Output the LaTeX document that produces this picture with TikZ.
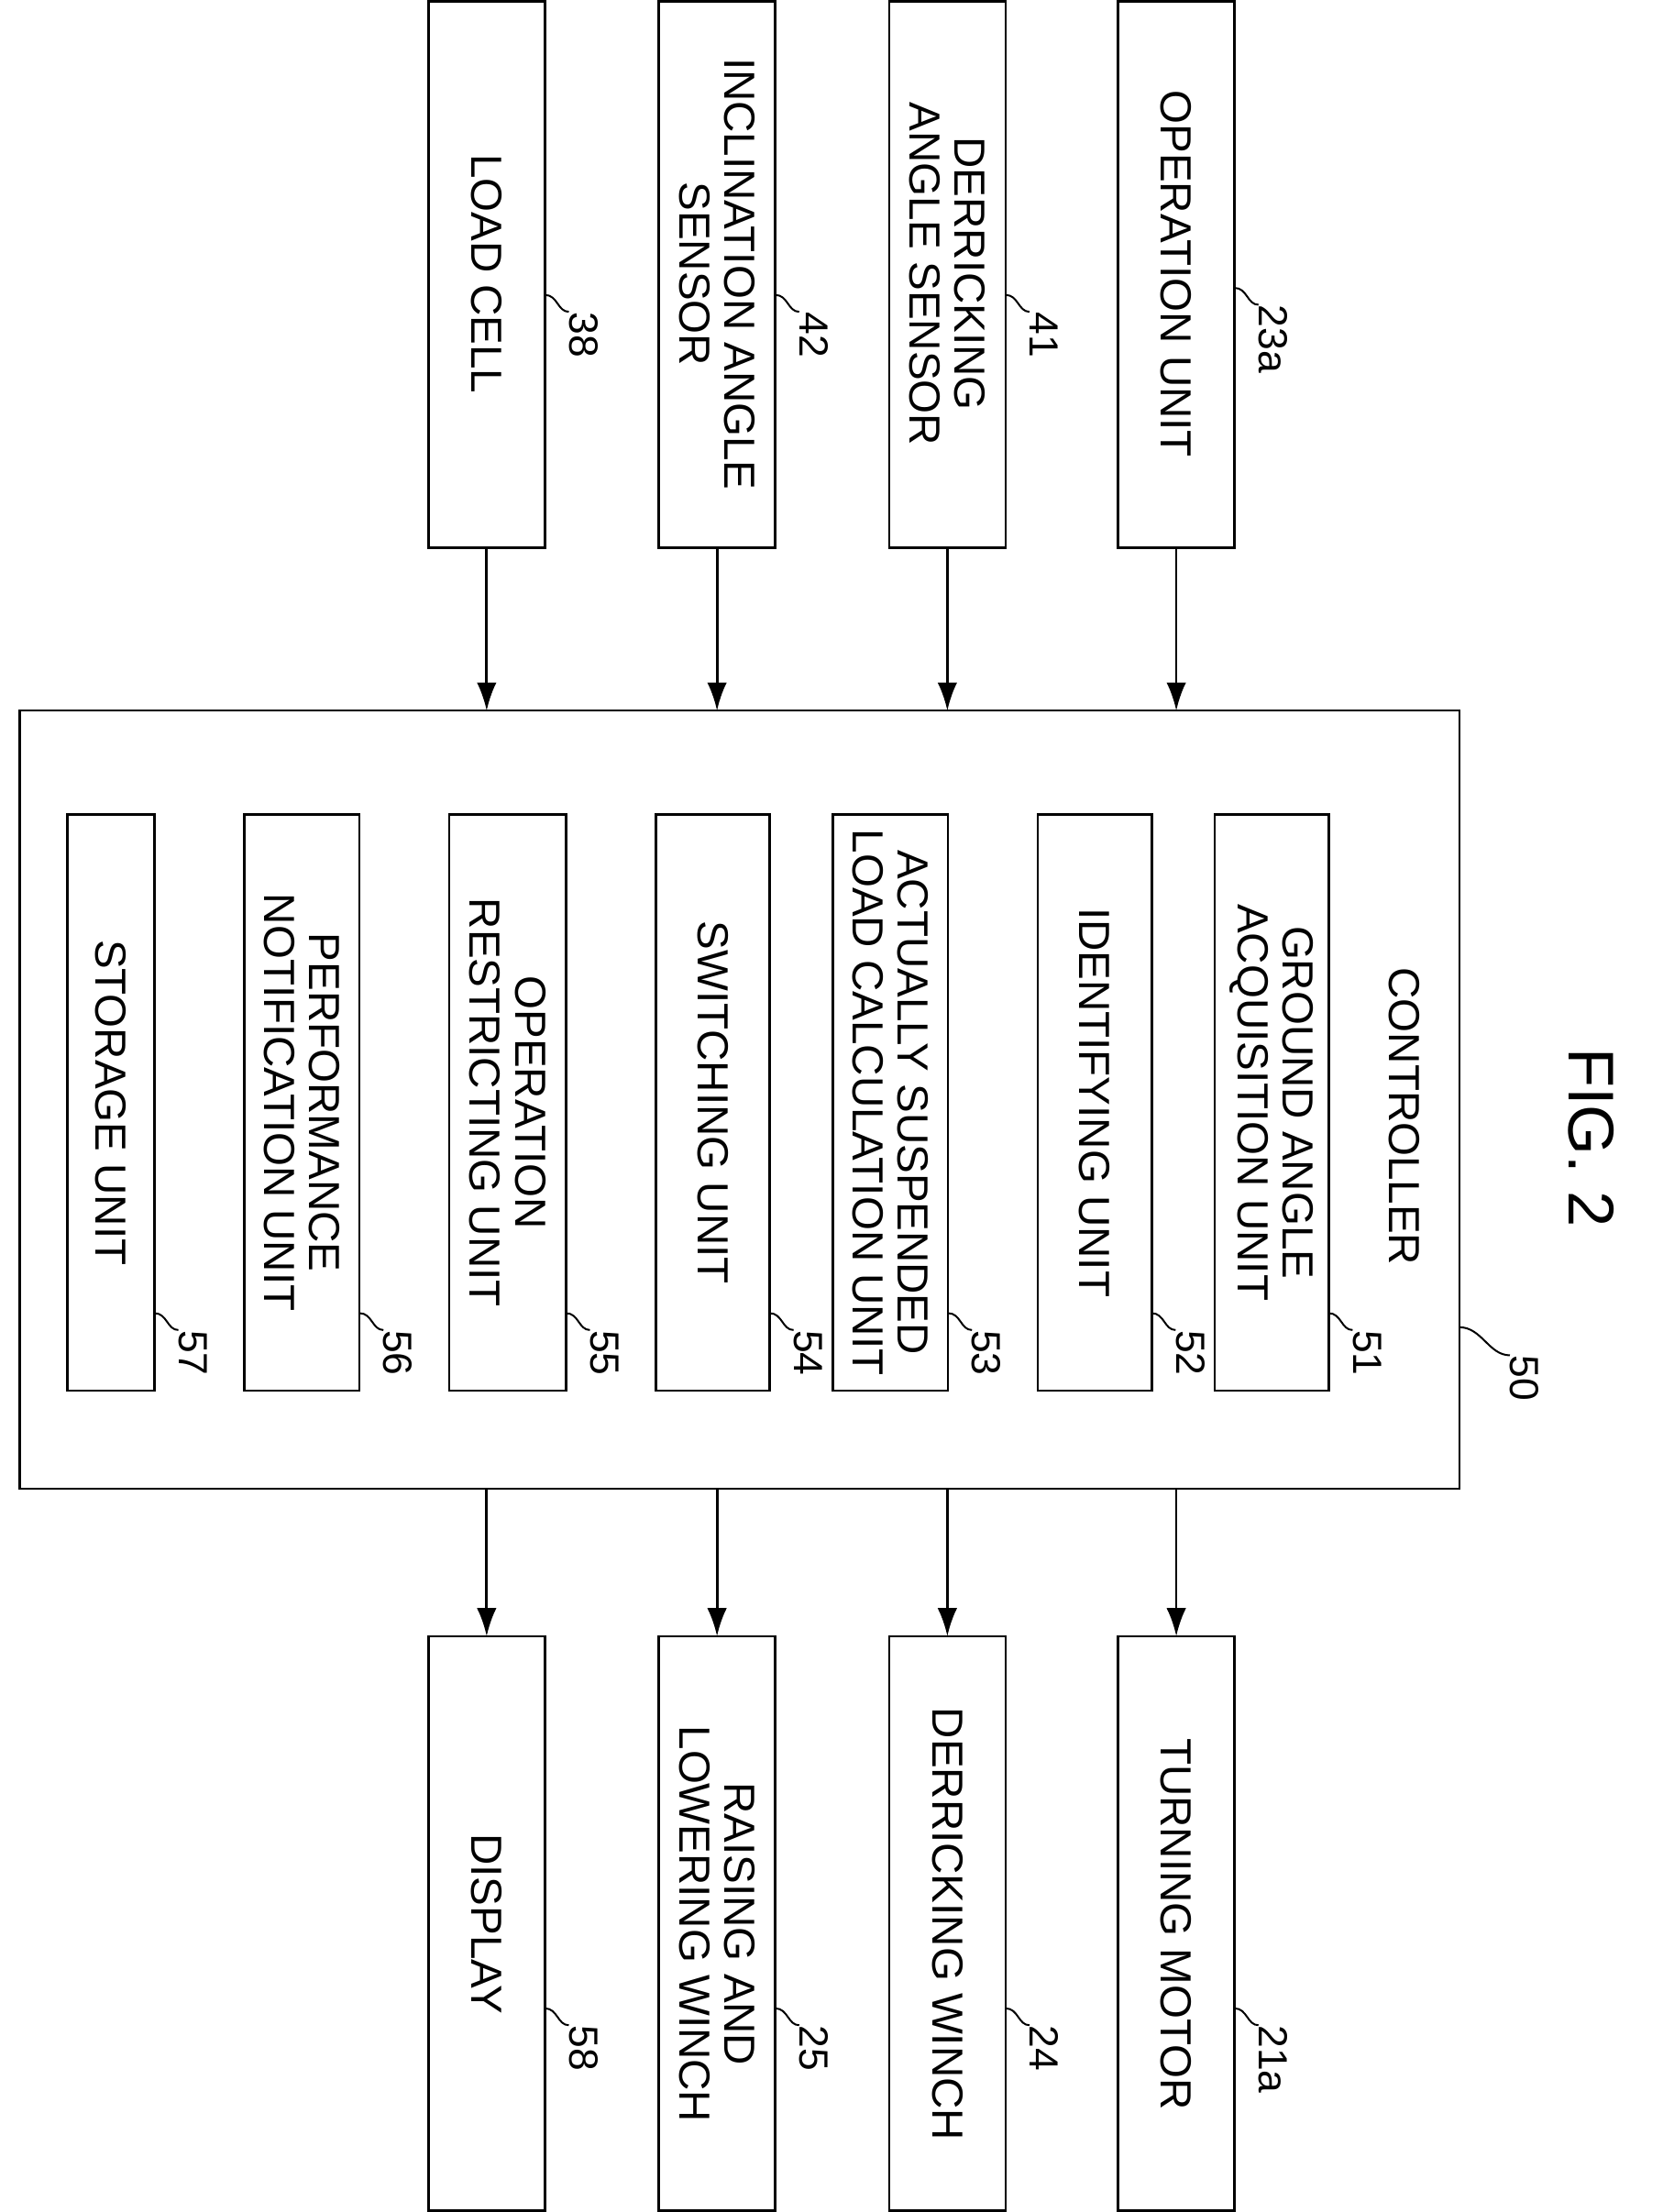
\documentclass[tikz,border=0pt]{standalone}
\usetikzlibrary{arrows.meta}
\usepackage{fontspec}
\setmainfont{Liberation Sans}
\begin{document}
\begin{tikzpicture}[x=1pt,y=-1pt,
 box/.style={draw,line width=1.6pt},
 txt/.style={rotate=-90,align=center,font=\fontsize{31}{32}\selectfont,inner sep=0},
 num/.style={rotate=-90,anchor=south west,font=\fontsize{29}{30}\selectfont,inner sep=0},
 arr/.style={line width=1.8pt,-{Latex[length=20pt,width=14pt]}},
 lead/.style={line width=1.3pt}]
\useasboundingbox (0,0) rectangle (1184,1575);
% top boxes
\foreach \n/\x/\t/\lab/\ly in {a/305/LOAD CELL/38/210, b/469/INCLINATION ANGLE\\SENSOR/42/210, c/633/DERRICKING\\ANGLE SENSOR/41/210, d/796/OPERATION UNIT/23a/205}{
 \draw[box] (\x,1) rectangle (\x+83,390);
 \node[txt] (tt\n) at (\x+41.5,195) {\t};
 \draw[lead] (\x+83,\ly) .. controls (\x+92,\ly) and (\x+92,\ly+12) .. (\x+100,\ly+12);
 \node[num] (tn\n) at (\x+100,\ly+12) {\lab};
 \coordinate (ta\n) at (\x+41.5,390);
 \coordinate (tb\n) at (\x+41.5,506);
 \draw[arr] (ta\n) -- (tb\n);
}
% controller
\draw[box] (14,506) rectangle (1039,1060);
\node[txt] (ctl) at (1000,795) {CONTROLLER};
\node[rotate=-90,font=\fontsize{46}{48}\selectfont] (fig) at (1133,810) {FIG. 2};
\draw[lead] (1039,945) .. controls (1055,945) and (1060,965) .. (1075,965);
\node[num] (n50) at (1075,965) {50};
% inner boxes
\foreach \n/\x/\w/\t/\lab in {g/865/81/GROUND ANGLE\\ACQUISITION UNIT/51, i/739/81/IDENTIFYING UNIT/52, s/593/82/ACTUALLY SUSPENDED\\LOAD CALCULATION UNIT/53, w/467/81/SWITCHING UNIT/54, r/320/83/OPERATION\\RESTRICTING UNIT/55, p/174/82/PERFORMANCE\\NOTIFICATION UNIT/56, u/48/62/STORAGE UNIT/57}{
 \draw[box] (\x,580) rectangle (\x+\w,990);
 \node[txt] (in\n) at (\x+\w/2,785) {\t};
 \draw[lead] (\x+\w,935) .. controls (\x+\w+9,935) and (\x+\w+9,947) .. (\x+\w+17,947);
 \node[num] (nn\n) at (\x+\w+17,947) {\lab};
}
% bottom boxes
\foreach \n/\x/\t/\lab/\ly in {a/305/DISPLAY/58/1430, b/469/RAISING AND\\LOWERING WINCH/25/1430, c/633/DERRICKING WINCH/24/1430, d/796/TURNING MOTOR/21a/1430}{
 \draw[box] (\x,1165) rectangle (\x+83,1574);
 \node[txt] (bt\n) at (\x+41.5,1370) {\t};
 \draw[lead] (\x+83,\ly) .. controls (\x+92,\ly) and (\x+92,\ly+12) .. (\x+100,\ly+12);
 \node[num] (bn\n) at (\x+100,\ly+12) {\lab};
 \coordinate (ba\n) at (\x+41.5,1060);
 \coordinate (bb\n) at (\x+41.5,1165);
 \draw[arr] (ba\n) -- (bb\n);
}
\end{tikzpicture}
\end{document}
